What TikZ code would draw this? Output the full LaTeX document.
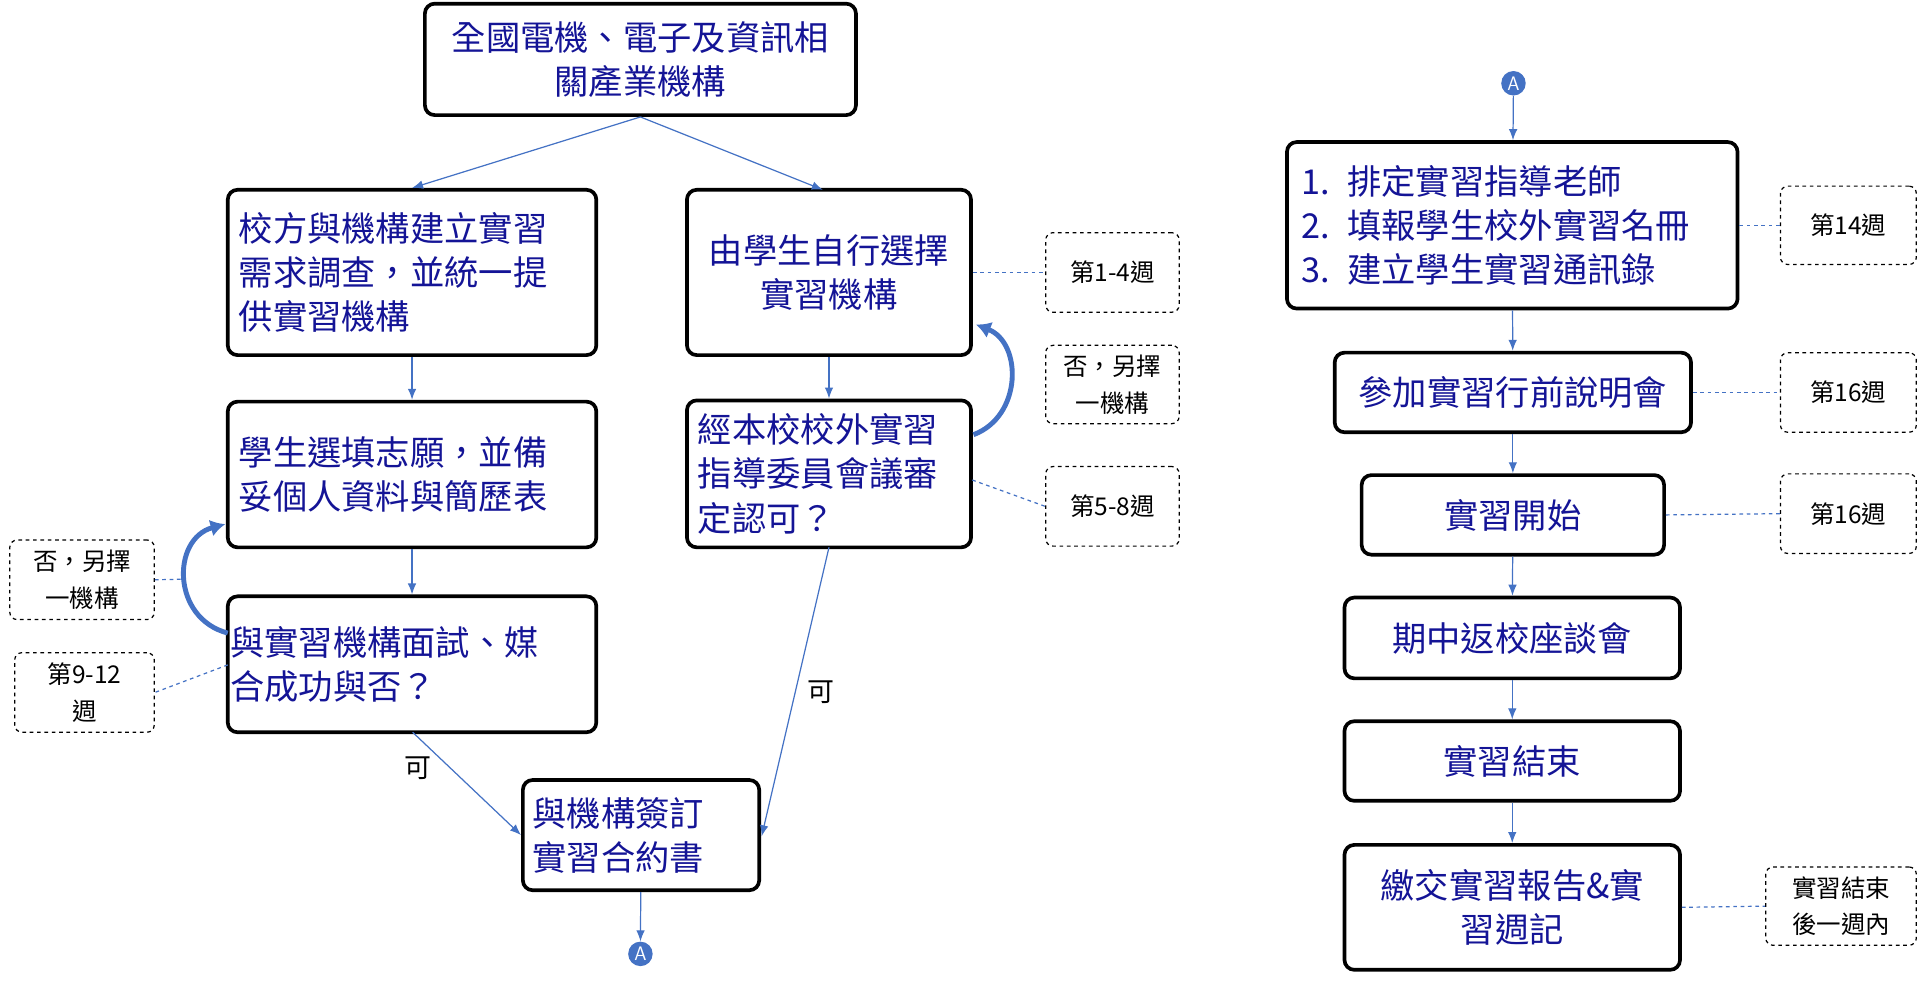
\documentclass[tikz,border=0pt]{standalone}
\usepackage{fontspec}
\setmainfont{Noto Sans CJK TC}
\usetikzlibrary{arrows.meta}
\definecolor{tb}{RGB}{20,20,150}
\definecolor{lb}{RGB}{68,114,196}
\begin{document}
\begin{tikzpicture}[x=1pt,y=-1pt,
 box/.style={draw=black,line width=3pt,rounded corners=8pt,inner sep=0pt,text=tb,font=\fontsize{28}{36}\selectfont},
 note/.style={draw=black,dashed,line width=1pt,rounded corners=6pt,inner sep=0pt,align=center,font=\fontsize{20}{30}\selectfont},
 ar/.style={draw=lb,line width=1pt,-{Latex[length=9pt,width=7pt]}},
 dl/.style={draw=lb,dashed,line width=1pt},
 cv/.style={draw=lb,line width=4pt,-{Latex[length=12pt,width=14pt]}},
 ac/.style={circle,fill=lb,text=white,inner sep=0pt,minimum size=20pt,font=\fontsize{16}{16}\selectfont\sffamily}]
\useasboundingbox (0,0) rectangle (1568,811);
\node[box,minimum width=352pt,minimum height=91pt,align=center] (top) at (523,48.5) {全國電機、電子及資訊相\\關產業機構};
\node[box,minimum width=301pt,minimum height=135pt,text width=301pt,align=left] (l1) at (336.5,222.5) {\hspace*{9pt}校方與機構建立實習\\\hspace*{9pt}需求調查，並統一提\\\hspace*{9pt}供實習機構};
\node[box,minimum width=232pt,minimum height=135pt,align=center] (m1) at (677,222.5) {由學生自行選擇\\實習機構};
\node[box,minimum width=301pt,minimum height=119pt,text width=301pt,align=left] (l2) at (336.5,387.5) {\hspace*{9pt}學生選填志願，並備\\\hspace*{9pt}妥個人資料與簡歷表};
\node[box,minimum width=232pt,minimum height=120pt,text width=232pt,align=left] (m2) at (677,387) {\hspace*{9pt}經本校校外實習\\\hspace*{9pt}指導委員會議審\\\hspace*{9pt}定認可？};
\node[box,minimum width=301pt,minimum height=111pt,text width=301pt,align=left] (l3) at (336.5,542.5) {\hspace*{2pt}與實習機構面試、媒\\\hspace*{2pt}合成功與否？};
\node[box,minimum width=193pt,minimum height=90pt,text width=193pt,align=left] (sg) at (523.5,682) {\hspace*{8pt}與機構簽訂\\\hspace*{8pt}實習合約書};
\node[ac] (a1) at (523,779) {A};
\node[ac] (a2) at (1236,68) {A};
\node[box,minimum width=368pt,minimum height=136pt,text width=368pt,align=left] (r1) at (1235,184) {\hspace*{12pt}1. 排定實習指導老師\\\hspace*{12pt}2. 填報學生校外實習名冊\\\hspace*{12pt}3. 建立學生實習通訊錄};
\node[box,minimum width=291pt,minimum height=65pt,align=center] (r2) at (1235.5,320.5) {參加實習行前說明會};
\node[box,minimum width=247pt,minimum height=65pt,align=center] (r3) at (1235.5,420.5) {實習開始};
\node[box,minimum width=274pt,minimum height=66pt,align=center] (r4) at (1235,521) {期中返校座談會};
\node[box,minimum width=274pt,minimum height=65pt,align=center] (r5) at (1235,621.5) {實習結束};
\node[box,minimum width=274pt,minimum height=102pt,align=center] (r6) at (1235,741) {繳交實習報告\&實\\習週記};
\node[note,minimum width=109pt,minimum height=65pt] (n1) at (908.5,222.5) {第1-4週};
\node[note,minimum width=109pt,minimum height=64pt] (n2) at (908.5,314) {否，另擇\\一機構};
\node[note,minimum width=109pt,minimum height=65pt] (n3) at (908.5,413.5) {第5-8週};
\node[note,minimum width=118pt,minimum height=65pt] (n4) at (67,473.5) {否，另擇\\一機構};
\node[note,minimum width=114pt,minimum height=65pt] (n5) at (69,565.5) {第9-12\\週};
\node[note,minimum width=111pt,minimum height=64pt] (n6) at (1509.5,184) {第14週};
\node[note,minimum width=111pt,minimum height=65pt] (n7) at (1509.5,320.5) {第16週};
\node[note,minimum width=111pt,minimum height=65pt] (n8) at (1509.5,419.5) {第16週};
\node[note,minimum width=123pt,minimum height=64pt] (n9) at (1503.5,740) {實習結束\\後一週內};
\draw[ar] (top.south) -- (l1.north);
\draw[ar] (top.south) -- (672,155);
\draw[ar] (l1) -- (l2);
\draw[ar] (l2) -- (l3);
\draw[ar] (m1) -- (m2);
\draw[ar] (337,598) -- (sg.west) node[pos=0.35,left=12pt,font=\fontsize{22}{22}\selectfont]{可};
\draw[ar] (677,447) -- (622,683) node[pos=0.5,right=6pt,font=\fontsize{22}{22}\selectfont]{可};
\draw[ar] (sg) -- (a1);
\draw[ar] (a2) -- (r1);
\draw[ar] (r1) -- (r2);
\draw[ar] (r2) -- (r3);
\draw[ar] (r3) -- (r4);
\draw[ar] (r4) -- (r5);
\draw[ar] (r5) -- (r6);
\draw[cv] (795,355) .. controls (835,340) and (835,280) .. (797,265);
\draw[cv] (186,517) .. controls (140,505) and (140,440) .. (184,428);
\draw[dl] (m1.east) -- (n1.west);
\draw[dl] (794,392) -- (n3.west);
\draw[dl] (n4.east) -- (150,473);
\draw[dl] (186,543) -- (n5.east);
\draw[dl] (r1.east) -- (n6.west);
\draw[dl] (r2.east) -- (n7.west);
\draw[dl] (r3.east) -- (n8.west);
\draw[dl] (r6.east) -- (n9.west);
\end{tikzpicture}
\end{document}
